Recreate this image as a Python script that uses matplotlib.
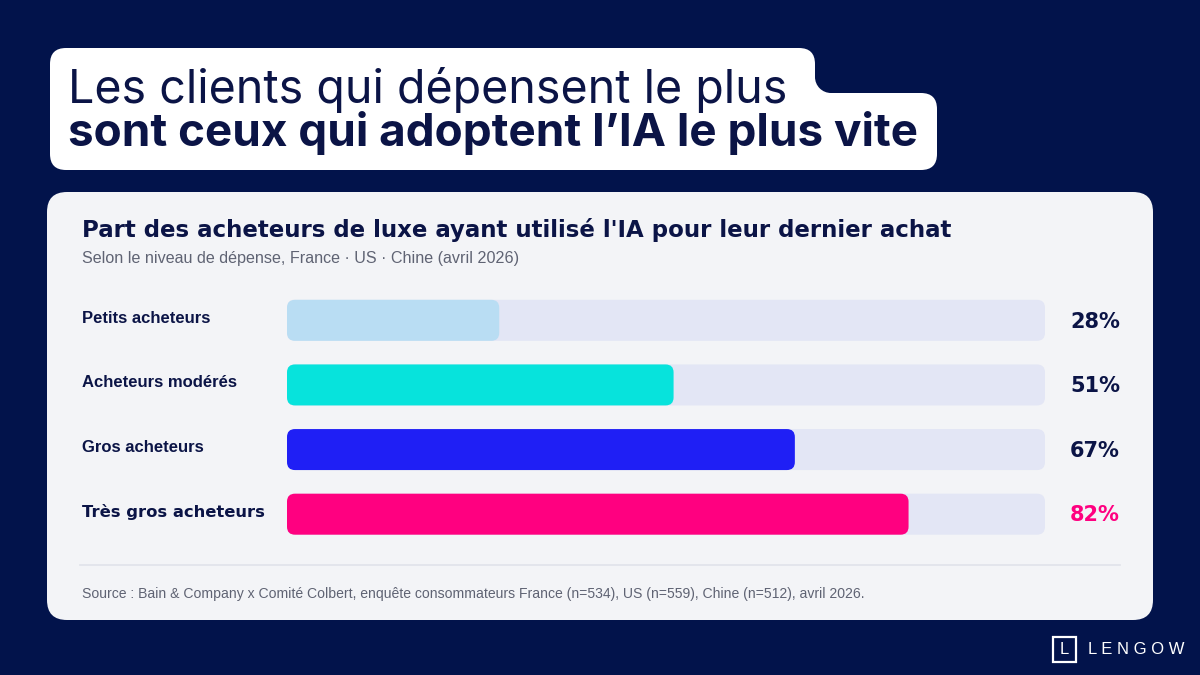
import matplotlib
matplotlib.use("Agg")
import matplotlib.pyplot as plt
from matplotlib.patches import FancyBboxPatch, Rectangle, Circle

# data
categories = ["Petits acheteurs", "Acheteurs modérés", "Gros acheteurs", "Très gros acheteurs"]
values = [28, 51, 67, 82]
bar_colors = ["#B9DDF3", "#07E3DC", "#1F1FF5", "#FF0080"]
value_colors = ["#0B1446", "#0B1446", "#0B1446", "#FF0080"]

headline_1 = "Les clients qui dépensent le plus"
headline_2 = "sont ceux qui adoptent l’IA le plus vite"
chart_title = "Part des acheteurs de luxe ayant utilisé l'IA pour leur dernier achat"
chart_sub = "Selon le niveau de dépense, France · US · Chine (avril 2026)"
source = ("Source : Bain & Company x Comité Colbert, enquête consommateurs France (n=534), "
          "US (n=559), Chine (n=512), avril 2026.")

NAVY = "#02134B"
DARK = "#0B1446"
CARD = "#F3F4F7"
TRACK = "#E3E6F5"

W, H = 1200, 675
fig = plt.figure(figsize=(12, 6.75), dpi=100)
fig.patch.set_facecolor(NAVY)

# background axes in pixel coordinates
bg = fig.add_axes([0, 0, 1, 1])
bg.set_xlim(0, W)
bg.set_ylim(H, 0)
bg.axis("off")

# headline box
bg.add_patch(FancyBboxPatch((50, 48), 765, 80, boxstyle="round,pad=0,rounding_size=16",
                            fc="white", ec="none"))
bg.add_patch(FancyBboxPatch((50, 93), 887, 77, boxstyle="round,pad=0,rounding_size=16",
                            fc="white", ec="none"))
# concave corner where the two boxes meet
bg.add_patch(Rectangle((815, 77), 16, 16, fc="white", ec="none"))
bg.add_patch(Circle((831, 77), 16, fc=NAVY, ec="none"))

bg.text(68, 103, headline_1, fontsize=33.5, family="Inter", color=DARK, va="baseline")
bg.text(68, 146, headline_2, fontsize=33, family="Inter", fontweight="bold",
        color=DARK, va="baseline")

# card
bg.add_patch(FancyBboxPatch((47, 192), 1106, 428, boxstyle="round,pad=0,rounding_size=20",
                            fc=CARD, ec="none"))
bg.text(82, 237, chart_title, fontsize=16.5, family="DejaVu Sans", fontweight="bold",
        color=DARK, va="baseline")
bg.text(82, 263, chart_sub, fontsize=11.6, family="Liberation Sans", color="#5F6373",
        va="baseline")
bg.plot([80, 1120], [565, 565], color="#E0E2EA", lw=1.2)
bg.text(82, 598, source, fontsize=10.1, family="Liberation Sans", color="#5F6373",
        va="baseline")

# logo
bg.add_patch(Rectangle((1053, 637), 23, 25, fc="none", ec="white", lw=1.6))
bg.text(1064.5, 650, "L", fontsize=12, color="white", ha="center", va="center",
        family="Liberation Sans")
bg.text(1088, 650, "L E N G O W", fontsize=12, color="white", va="center",
        family="Liberation Sans")

# bar axes
x0, x1 = 287, 1045
y_top, y_bot = 288, 546.5
ax = fig.add_axes([x0 / W, 1 - y_bot / H, (x1 - x0) / W, (y_bot - y_top) / H])
ax.set_xlim(0, 100)
ax.set_ylim(len(categories) - 0.5, -0.5)
ax.axis("off")
ax.patch.set_alpha(0)

px_x = (x1 - x0) / 100
px_y = (y_bot - y_top) / len(categories)
bar_h = 41 / px_y
r = 8 / px_x
aspect = (8 / px_y) / r

for i, (cat, v, c, vc) in enumerate(zip(categories, values, bar_colors, value_colors)):
    ax.add_patch(FancyBboxPatch((0, i - bar_h / 2), 100, bar_h,
                                boxstyle=f"round,pad=0,rounding_size={r}",
                                mutation_aspect=aspect, fc=TRACK, ec="none"))
    ax.add_patch(FancyBboxPatch((0, i - bar_h / 2), v, bar_h,
                                boxstyle=f"round,pad=0,rounding_size={r}",
                                mutation_aspect=aspect, fc=c, ec="none"))
    last = i == len(categories) - 1
    ax.text((82 - x0) / (x1 - x0), i - 0.03, cat, transform=ax.get_yaxis_transform(),
            fontsize=11.8 if last else 12, fontweight="bold",
            family="DejaVu Sans" if last else "Liberation Sans", color=DARK,
            ha="left", va="center")
    ax.text((1120 - x0) / (x1 - x0), i + 0.02, f"{v}%", transform=ax.get_yaxis_transform(),
            fontsize=15, fontweight="bold", family="DejaVu Sans", color=vc,
            ha="right", va="center")

fig.savefig("out.png", dpi=100, facecolor=NAVY)
